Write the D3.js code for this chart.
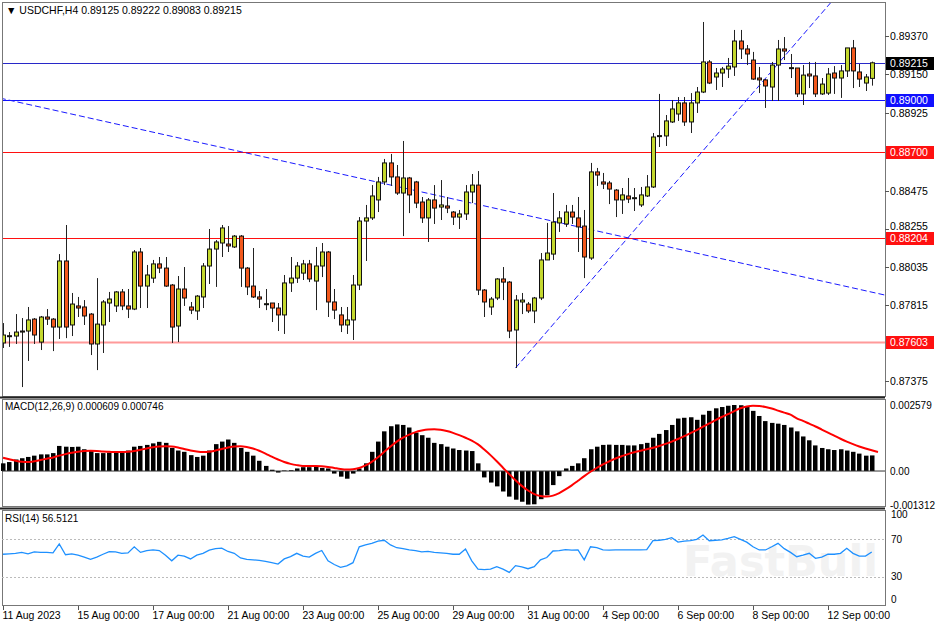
<!DOCTYPE html>
<html><head><meta charset="utf-8">
<script src="https://cdn.jsdelivr.net/npm/d3@7"></script>
<style>body{margin:0;background:#fff}svg{display:block;font-family:"Liberation Sans",Arial,sans-serif}</style>
</head><body><svg id="c" width="936" height="624"></svg>
<script>
const P = v => v/100000;
const openV = [87595,87635,87635,87658,87664,87733,87600,87745,87733,87687,88069,87699,87809,87803,87762,87589,87699,87826,87809,87890,87809,87791,88121,87924,87970,88052,88028,87930,87693,87907,87803,87780,87861,88040,88138,88173,88167,88150,88213,88028,87924,87861,87820,87826,87797,87757,87942,87970,87999,88052,87953,88040,88121,87832,87757,87699,87728,87930,88300,88318,88422,88526,88636,88555,88462,88549,88526,88410,88318,88422,88381,88387,88352,88323,88341,88468,88508,87901,87803,87855,87965,87947,87670,87832,87820,87780,87855,88075,88109,88289,88283,88352,88318,88271,88086,88584,88526,88520,88479,88422,88445,88433,88393,88445,88497,88792,88792,88873,88919,88983,88873,88983,89046,89220,89133,89156,89179,89191,89341,89295,89231,89127,89116,89075,89202,89295,89185,89185,89035,89150,89139,89035,89040,89156,89127,89168,89301,89162,89098,89125].map(P);
const closeV = [87641,87637,87658,87664,87728,87641,87745,87733,87687,88069,87687,87820,87797,87751,87589,87704,87832,87849,87890,87809,87791,88121,87924,87988,88052,88028,87924,87687,87907,87855,87785,87866,88040,88138,88179,88260,88156,88213,88028,87919,87861,87849,87822,87797,87757,87942,87970,88040,88052,87965,88040,88121,87832,87785,87699,87728,87930,88300,88318,88445,88526,88636,88555,88462,88549,88451,88404,88318,88422,88375,88393,88375,88323,88341,88468,88508,87901,87832,87849,87965,87947,87664,87843,87843,87780,87855,88075,88115,88294,88318,88352,88323,88266,88092,88584,88566,88514,88485,88422,88451,88427,88435,88451,88497,88786,88794,88879,88948,88983,88873,88983,89046,89220,89098,89156,89179,89196,89341,89295,89266,89121,89116,89081,89202,89295,89283,89187,89035,89144,89139,89035,89092,89150,89127,89168,89301,89168,89121,89133,89215].map(P);
const highV = [87710,87658,87762,87739,87803,87739,87751,87791,87739,88109,88277,87884,87861,87843,87768,87970,87843,87890,87895,87907,87907,88132,88144,88046,88075,88092,88092,87936,87982,88034,87832,87872,88057,88254,88190,88277,88271,88219,88219,88034,88144,87895,87907,87826,87826,87988,88092,88063,88075,88075,88150,88173,88127,87907,87803,87803,87988,88323,88393,88508,88555,88659,88688,88624,88763,88555,88532,88439,88433,88508,88537,88439,88358,88364,88508,88572,88589,87907,87861,87970,88034,87953,87872,87884,87832,87861,88115,88289,88462,88358,88393,88393,88439,88364,88636,88607,88578,88532,88485,88491,88549,88491,88497,88566,88809,89035,88913,89000,89017,89017,89040,89075,89451,89231,89185,89191,89243,89405,89405,89318,89278,89191,89121,89220,89347,89364,89266,89185,89202,89220,89220,89127,89185,89196,89202,89301,89347,89208,89150,89222].map(P);
const lowV = [87566,87572,87589,87340,87491,87589,87554,87699,87548,87618,87623,87635,87745,87699,87525,87438,87537,87716,87774,87785,87739,87785,87797,87797,87942,87999,87919,87595,87600,87809,87762,87728,87797,87936,87919,88092,88121,88144,87919,87872,87855,87797,87785,87716,87664,87647,87890,87942,87959,87947,87785,87976,87745,87733,87658,87647,87612,87901,88069,88306,88352,88508,88503,88451,88213,88346,88375,88289,88179,88283,88306,88346,88277,88254,88306,88404,87872,87745,87757,87843,87843,87623,87450,87762,87768,87710,87843,88075,88075,88237,88266,88283,88121,87970,88075,88503,88485,88398,88323,88341,88404,88358,88381,88439,88491,88728,88734,88867,88879,88850,88809,88925,89040,89092,89058,89075,89127,89139,89237,89202,89116,89040,88954,88994,88994,89231,89127,89017,88971,89069,89017,89029,89029,89035,89012,89133,89069,89075,89052,89083].map(P);
// MACD histogram and signal, in units of 1e-4
const macdHist = [3.0,3.5,4.5,5.0,5.5,6.0,6.5,6.5,7.0,9.8,9.5,9.4,9.5,8.5,7.8,7.0,7.0,7.2,7.3,7.5,8.0,9.5,9.8,10.2,10.8,11.4,11.0,9.0,8.0,7.5,6.2,5.5,6.0,8.0,10.5,11.5,12.3,11.0,9.0,7.5,6.0,4.0,2.0,0.5,-0.6,0.2,0.3,1.0,1.5,1.5,2.0,1.2,1.0,-1.0,-2.2,-3.0,-1.0,1.0,3.0,7.5,11.5,15.5,17.5,18.2,18.0,17.0,15.0,14.0,13.0,11.0,10.5,9.5,8.8,8.2,8.0,7.8,3.0,-2.5,-4.5,-6.0,-8.0,-10.0,-11.2,-12.0,-13.12,-13.0,-11.0,-9.5,-5.5,-2.0,1.0,2.0,3.0,5.0,8.5,9.5,10.2,10.3,10.2,10.2,10.0,10.0,10.5,11.0,13.0,14.5,16.0,18.0,20.5,20.8,21.0,20.0,22.0,23.5,24.5,25.0,25.5,25.79,25.7,25.2,23.5,21.5,19.5,18.8,18.5,18.0,17.0,15.5,13.5,12.0,10.0,9.0,8.5,8.2,8.5,8.0,7.5,6.8,6.0,6.09].map(v=>v/10000);
const macdSignal = [5.2,4.6,4.0,3.6,3.5,3.8,4.3,4.8,5.3,6.0,6.6,7.1,7.5,7.8,7.9,7.8,7.6,7.5,7.4,7.4,7.5,7.8,8.3,8.8,9.3,9.6,9.7,9.6,9.2,8.6,8.0,7.6,7.4,7.5,8.0,8.6,9.2,9.6,9.7,9.4,8.8,7.9,6.8,5.6,4.5,3.5,2.8,2.3,2.0,2.0,2.0,1.9,1.6,1.2,0.8,0.6,0.7,1.2,2.2,3.6,5.4,7.5,9.6,11.5,13.0,14.2,15.2,15.8,16.2,16.3,16.1,15.6,14.9,14.0,13.0,11.9,10.4,8.4,6.2,3.8,1.3,-1.2,-3.6,-5.8,-7.6,-9.0,-9.8,-10.0,-9.6,-8.6,-7.2,-5.6,-3.8,-2.0,-0.3,1.2,2.6,3.8,4.9,5.8,6.6,7.3,7.9,8.5,9.1,9.8,10.6,11.5,12.5,13.6,14.8,16.0,17.3,18.6,19.9,21.1,22.2,23.4,24.5,25.2,25.5,25.4,25.0,24.4,23.6,22.8,22.0,20.6,19.6,18.5,17.4,16.2,15.0,13.8,12.6,11.5,10.5,9.6,8.8,8.1,7.46].map(v=>v/10000);
const rsiV = [54,54.5,55,56,54.5,56.5,56,56,55.5,65,53.5,54.5,53,51,48.6,51,54,56.8,56.5,55,55.5,62,56,58,58.6,58,53,47,53,52,49,53,55,58.5,60,60.5,57,55,50,48.5,48,47.5,46.5,45,43.5,49,51.4,55,52,51,55,58,47,43,40,41.5,45,62,64,65.7,68,69,64,61,60,58.6,58,56.5,57,56,55.5,55,54,54,59.6,47,38,37.5,38,40.7,38,34.6,41.8,40.5,38.5,40.7,48,50.5,57.5,58,59,58.5,58.6,48,62,61,58.6,58.5,58.6,58.6,58.6,58.6,58.6,59,68.6,69,70,71.8,67,68,68.5,70,74.6,68.5,69,69.5,71,72.9,70,67,62,58.6,58.6,62,65.7,60,56,51.4,53,55,49.6,51,54,54,55,60.4,55,52,52,56.51];
const dateLabels = ["11 Aug 2023","15 Aug 00:00","17 Aug 00:00","21 Aug 00:00","23 Aug 00:00","25 Aug 00:00","29 Aug 00:00","31 Aug 00:00","4 Sep 00:00","6 Sep 00:00","8 Sep 00:00","12 Sep 00:00"];
const priceTicks = [0.89370,0.89150,0.88925,0.88475,0.88255,0.88035,0.87815,0.87375];
const levels = [
 {p:0.89215,c:"#2828c8",bg:"#000",w:1},
 {p:0.89000,c:"#1010ff",bg:"#1010ff",w:1},
 {p:0.88700,c:"#ff1010",bg:"#ff1010",w:1},
 {p:0.88204,c:"#ff1010",bg:"#ff1010",w:1},
 {p:0.87603,c:"#ff9a9a",bg:"#ff1010",w:2}];
const trendDown = {i:[-0.5,141.1], p:[0.89011,0.87872]};
const trendUp = {i:[82,100], p:[0.87450,0.88204]};

const svg = d3.select("#c");
const n = openV.length;
const x = d3.scaleLinear().domain([0,139]).range([3,871.75]);
const y = d3.scaleLinear().domain([0.87375,0.89370]).range([381,36]);
const L=2,R=885;
svg.append("rect").attr("x",L+0.5).attr("y",2.5).attr("width",R-L).attr("height",394).attr("fill","none").attr("stroke","#777");
svg.append("line").attr("x1",0).attr("x2",R).attr("y1",397.5).attr("y2",397.5).attr("stroke","#222").attr("stroke-width",2);
svg.append("rect").attr("x",L+0.5).attr("y",399.5).attr("width",R-L).attr("height",107).attr("fill","none").attr("stroke","#777");
svg.append("line").attr("x1",0).attr("x2",R).attr("y1",508.5).attr("y2",508.5).attr("stroke","#222").attr("stroke-width",2);
svg.append("rect").attr("x",L+0.5).attr("y",510.5).attr("width",R-L).attr("height",95).attr("fill","none").attr("stroke","#777");

const defs = svg.append("defs");
defs.append("clipPath").attr("id","cm").append("rect").attr("x",L+1).attr("y",3).attr("width",R-L-1).attr("height",393);
const main = svg.append("g").attr("clip-path","url(#cm)");

levels.forEach(l=>{
  main.append("line").attr("x1",L).attr("x2",R).attr("y1",Math.round(y(l.p))+0.5).attr("y2",Math.round(y(l.p))+0.5).attr("stroke",l.c).attr("stroke-width",l.w);
});
function tl(t,ext){
  const s=(t.p[1]-t.p[0])/(t.i[1]-t.i[0]);
  const i2 = ext? t.i[0]+ (0.8958-t.p[0])/s : t.i[1];
  main.append("line").attr("x1",x(t.i[0])).attr("y1",y(t.p[0])).attr("x2",x(i2)).attr("y2",y(t.p[0]+s*(i2-t.i[0])))
   .attr("stroke","#1a1aff").attr("stroke-dasharray","6,3").attr("stroke-width",1);
}
tl(trendDown,false); tl(trendUp,true);

const cg = main.append("g");
for(let i=0;i<n;i++){
  const cx=Math.round(x(i))+0.5, up=closeV[i]>=openV[i];
  cg.append("line").attr("x1",cx).attr("x2",cx).attr("y1",y(highV[i])).attr("y2",y(lowV[i])).attr("stroke","#222");
  const t=y(Math.max(openV[i],closeV[i])), b=y(Math.min(openV[i],closeV[i]));
  cg.append("rect").attr("x",cx-2).attr("y",t).attr("width",4).attr("height",Math.max(1,b-t))
    .attr("fill",up?"#c4d82e":"#f2581c").attr("stroke","#111").attr("stroke-width",1);
}
const ax = svg.append("g").attr("font-size",10.5).attr("fill","#000");
priceTicks.forEach(p=>{
  ax.append("line").attr("x1",R).attr("x2",R+4).attr("y1",Math.round(y(p))+0.5).attr("y2",Math.round(y(p))+0.5).attr("stroke","#555");
  const yy = p===0.88255 ? y(p)+1 : y(p)+4;
  ax.append("text").attr("x",890).attr("y",yy).text(p.toFixed(5));
});
levels.forEach(l=>{
  const yy=Math.round(y(l.p));
  ax.append("rect").attr("x",886).attr("y",yy-6).attr("width",48).attr("height",13).attr("fill",l.bg);
  ax.append("text").attr("x",890).attr("y",yy+4).attr("fill","#fff").text(l.p.toFixed(5));
});
svg.append("text").attr("x",6).attr("y",14).attr("font-size",10.5).text("\u25BC USDCHF,H4  0.89125 0.89222 0.89083 0.89215");

const ym = d3.scaleLinear().domain([-0.001312,0.002579]).range([504.6,405]);
const mg = svg.append("g");
macdHist.forEach((v,i)=>{
  const cx=Math.round(x(i));
  mg.append("rect").attr("x",cx-2).attr("width",4.5).attr("y",Math.min(ym(v),ym(0))).attr("height",Math.abs(ym(v)-ym(0))).attr("fill","#000");
});
mg.append("line").attr("x1",L).attr("x2",R).attr("y1",ym(0)).attr("y2",ym(0)).attr("stroke","#333");
mg.append("path").attr("d",d3.line().x((d,i)=>x(i)).y(d=>ym(d)).curve(d3.curveMonotoneX)(macdSignal)).attr("fill","none").attr("stroke","#ff0000").attr("stroke-width",2);
svg.append("text").attr("x",5).attr("y",410).attr("font-size",10).text("MACD(12,26,9) 0.000609 0.000746");
[[0.002579,"0.002579"],[0,"0.00"],[-0.001312,"-0.001312"]].forEach(([v,t])=>{
  svg.append("text").attr("x",890).attr("y",ym(v)+4).attr("font-size",10).text(t);
});

const yr = d3.scaleLinear().domain([0,100]).range([604.7,511.3]);
svg.append("text").attr("x",683).attr("y",576).attr("font-size",42).attr("font-weight","bold").attr("fill","#f2f2f2").attr("font-family","'DejaVu Sans'").attr("textLength",195).attr("lengthAdjust","spacingAndGlyphs").text("FastBull");
[70,30].forEach(v=>svg.append("line").attr("x1",L).attr("x2",R).attr("y1",Math.round(yr(v))+0.5).attr("y2",Math.round(yr(v))+0.5).attr("stroke","#bbb").attr("stroke-dasharray","2,2"));
svg.append("path").attr("d",d3.line().x((d,i)=>x(i)).y(d=>yr(d))(rsiV)).attr("fill","none").attr("stroke","#1e90ff").attr("stroke-width",1.3);
svg.append("text").attr("x",5).attr("y",522).attr("font-size",10).text("RSI(14) 56.5121");
[[100,518],[70,543],[30,580],[0,603]].forEach(([v,yy])=>svg.append("text").attr("x",891).attr("y",yy).attr("font-size",10).text(v));

dateLabels.forEach((t,k)=>{
  const xi=Math.round(x(k*12))+0.5;
  svg.append("line").attr("x1",xi).attr("x2",xi).attr("y1",606).attr("y2",610).attr("stroke","#555");
  svg.append("text").attr("x",xi-1).attr("y",619).attr("font-size",10.5).text(t);
});
</script></body></html>
